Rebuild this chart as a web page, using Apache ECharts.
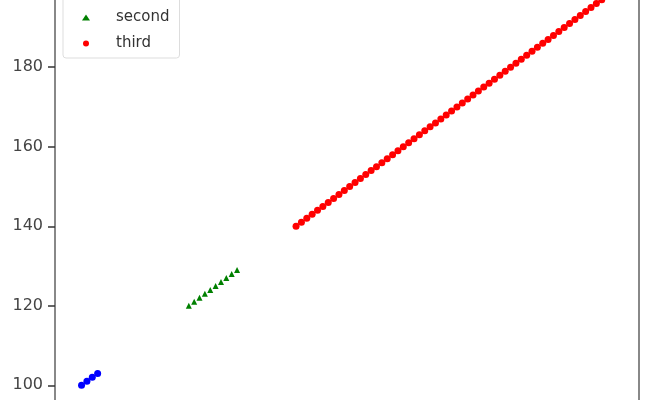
<!DOCTYPE html>
<html>
<head>
<meta charset="utf-8">
<script src="https://cdn.jsdelivr.net/npm/echarts@6/dist/echarts.min.js"></script>
<style>
  html, body { margin: 0; padding: 0; background: #fff; overflow: hidden; width: 650px; height: 400px; }
  /* the reference is a crop of a taller figure: shift the chart up */
  #main { position: absolute; left: 0; top: -29px; width: 650px; height: 440px; }
</style>
</head>
<body>
<div id="main"></div>
<script>
// series values
var firstX = [0, 1, 2, 3];
var firstY = [100, 101, 102, 103];

var secondX = [20, 21, 22, 23, 24, 25, 26, 27, 28, 29];
var secondY = [120, 121, 122, 123, 124, 125, 126, 127, 128, 129];

var thirdX = [40, 41, 42, 43, 44, 45, 46, 47, 48, 49,
              50, 51, 52, 53, 54, 55, 56, 57, 58, 59,
              60, 61, 62, 63, 64, 65, 66, 67, 68, 69,
              70, 71, 72, 73, 74, 75, 76, 77, 78, 79,
              80, 81, 82, 83, 84, 85, 86, 87, 88, 89,
              90, 91, 92, 93, 94, 95, 96, 97, 98, 99];
var thirdY = [140, 141, 142, 143, 144, 145, 146, 147, 148, 149,
              150, 151, 152, 153, 154, 155, 156, 157, 158, 159,
              160, 161, 162, 163, 164, 165, 166, 167, 168, 169,
              170, 171, 172, 173, 174, 175, 176, 177, 178, 179,
              180, 181, 182, 183, 184, 185, 186, 187, 188, 189,
              190, 191, 192, 193, 194, 195, 196, 197, 198, 199];

var yTicks = [100, 120, 140, 160, 180, 200];

function pairs(xs, ys) {
  return xs.map(function (x, i) { return [x, ys[i]]; });
}

var option = {
  animation: false,
  textStyle: { fontFamily: 'DejaVu Sans' },
  grid: {
    left: 55, right: 11, top: 1, bottom: 6,
    show: true, borderColor: '#888', borderWidth: 2
  },
  legend: {
    orient: 'vertical',
    left: 63, top: 6,
    itemGap: 11,
    itemWidth: 8, itemHeight: 6,
    padding: [7, 10, 7, 19],
    backgroundColor: '#fff',
    borderColor: '#ddd', borderWidth: 1, borderRadius: 3,
    textStyle: { fontSize: 15, color: '#333', padding: [0, 0, 0, 21] },
    data: [
      { name: 'first', icon: 'circle' },
      { name: 'second', icon: 'triangle' },
      { name: 'third', icon: 'circle' }
    ]
  },
  xAxis: {
    type: 'value',
    min: -4.95, max: 103.95,
    splitLine: { show: false },
    axisLine: { show: false },
    axisTick: { show: false },
    axisLabel: { show: false }
  },
  yAxis: {
    type: 'value',
    min: 95.05, max: 203.95,
    splitLine: { show: false },
    axisLine: { show: true, onZero: false, lineStyle: { color: '#888', width: 2 } },
    axisTick: {
      show: true, inside: false, length: 7,
      lineStyle: { color: '#333', width: 1.5 },
      customValues: yTicks
    },
    axisLabel: {
      color: '#444', fontSize: 16, margin: 12,
      customValues: yTicks
    }
  },
  series: [
    {
      name: 'first', type: 'scatter', symbol: 'circle', symbolSize: 7,
      itemStyle: { color: '#0000ff', opacity: 1 },
      data: pairs(firstX, firstY)
    },
    {
      name: 'second', type: 'scatter', symbol: 'triangle', symbolSize: 6,
      itemStyle: { color: '#008000', opacity: 1 },
      data: pairs(secondX, secondY)
    },
    {
      name: 'third', type: 'scatter', symbol: 'circle', symbolSize: 7,
      itemStyle: { color: '#ff0000', opacity: 1 },
      data: pairs(thirdX, thirdY)
    }
  ]
};

var myChart = echarts.init(document.getElementById('main'));
myChart.setOption(option);
</script>
</body>
</html>
